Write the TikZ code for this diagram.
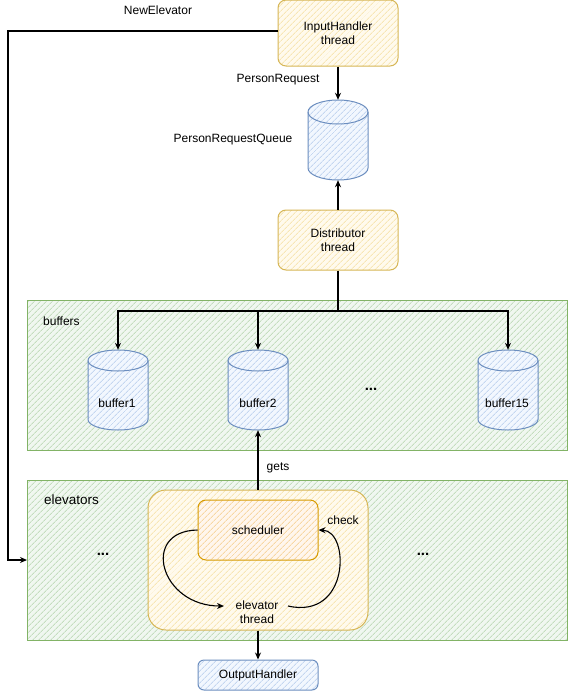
\documentclass[tikz,border=0pt]{standalone}
\usepackage{fontspec}
\setmainfont{Liberation Sans}
\usetikzlibrary{patterns.meta,arrows.meta,calc}
\definecolor{yfill}{HTML}{FFF2CC}\definecolor{ystroke}{HTML}{D6B656}
\definecolor{bfill}{HTML}{DAE8FC}\definecolor{bstroke}{HTML}{6C8EBF}
\definecolor{gfill}{HTML}{D5E8D4}\definecolor{gstroke}{HTML}{82B366}
\definecolor{ofill}{HTML}{FFE6CC}\definecolor{ostroke}{HTML}{D79B00}
\tikzset{
  hatch/.style 2 args={preaction={fill=#1!35}, pattern={Lines[angle=45,distance=4pt,line width=0.9pt]}, pattern color=#1!80!#2},
  ybox/.style={draw=ystroke, line width=1pt, hatch={yfill}{ystroke}, rounded corners=8pt, minimum width=120pt, minimum height=60pt, align=center, inner sep=0pt},
  bbox/.style={draw=bstroke, line width=1pt, hatch={bfill}{bstroke}, rounded corners=6pt, align=center, inner sep=0pt},
  obox/.style={draw=ostroke, line width=1pt, hatch={ofill}{ostroke}, rounded corners=8pt, align=center, inner sep=0pt},
  gbox/.style={draw=gstroke, line width=1pt, hatch={gfill}{gstroke}, inner sep=0pt},
  cylstyle/.style={draw=bstroke, line width=1pt, hatch={bfill}{bstroke}},
  conn/.style={draw=black, line width=1.2pt},
  arr/.style={-{Stealth[open,length=7pt,width=6pt]}},
  txt/.style={font=\fontsize{12}{14}\selectfont, align=center, inner sep=0pt},
  dots/.style={font=\fontsize{15}{16}\selectfont\bfseries, inner sep=0pt}
}
\newcommand\mycyl[6]{%
  \path[cylstyle] ({#2-#4/2},{#3+#6}) -- ({#2-#4/2},{#3+#5-#6}) arc[start angle=180,end angle=0,x radius={#4/2},y radius=#6] -- ({#2+#4/2},{#3+#6}) arc[start angle=0,end angle=-180,x radius={#4/2},y radius=#6] -- cycle;
  \draw[bstroke, line width=1pt] ({#2-#4/2},{#3+#6}) arc[start angle=180,end angle=0,x radius={#4/2},y radius=#6];
  \node[inner sep=0pt, minimum width=#4pt, minimum height=#5pt] (#1) at (#2,{#3+#5/2}) {};
}
\begin{document}
\begin{tikzpicture}[x=1pt,y=-1pt, txt]
\useasboundingbox (0,0) rectangle (568,691);
% containers
\node[gbox, minimum width=540pt, minimum height=150pt] (bufs) at (297.5,375) {};
\node[gbox, minimum width=540pt, minimum height=160pt] (elev) at (297.5,560) {};
\node[txt, anchor=west] (lbufs) at (43,321) {buffers};
\node[txt, anchor=west, font=\fontsize{13.5}{15}\selectfont] (lelev) at (44,500) {elevators};
% top boxes
\node[ybox, minimum height=66pt] (ih) at (338,33) {InputHandler\\thread};
\node[ybox] (dist) at (338,240) {Distributor\\thread};
\mycyl{prq}{338}{100}{60}{80}{12}
\node[txt] (lpr) at (278,80) {PersonRequest};
\node[txt] (lprq) at (233,140) {PersonRequestQueue};
\node[txt] (lne) at (158,10) {NewElevator};
% buffers
\mycyl{b1}{118}{350}{60}{80}{10.5}
\mycyl{b2}{258}{350}{60}{80}{10.5}
\mycyl{b15}{508}{350}{60}{80}{10.5}
\node[txt] (tb1) at (117,403) {buffer1};
\node[txt] (tb2) at (258,403) {buffer2};
\node[txt] (tb15) at (507,403) {buffer15};
\node[dots] (d1) at (371,389) {...};
% elevators
\node[ybox, rounded corners=18pt, minimum width=220pt, minimum height=140pt] (inner) at (258,560) {};
\node[obox, minimum width=120pt, minimum height=60pt] (sched) at (258,530) {scheduler};
\node[txt] (et) at (257,612) {elevator\\thread};
\node[txt] (lchk) at (343,520) {check};
\node[dots] (d2) at (103,554) {...};
\node[dots] (d3) at (423,554) {...};
\node[txt] (lgets) at (278,468) {gets};
\node[bbox, minimum width=120pt, minimum height=30pt] (out) at (258,675) {OutputHandler};
% connectors
\coordinate (ne) at (8,31);
\draw[conn, arr] (ih.west |- ne) -- (ne) |- (elev.west);
\draw[conn, arr] (ih.south) -- (prq.north);
\draw[conn, arr] (dist.north) -- (prq.south);
\coordinate (j) at (338,311);
\draw[conn] (dist.south) -- (j);
\draw[conn, arr] (j) -| (b1.north);
\draw[conn, arr] (j) -| (b2.north);
\draw[conn, arr] (j) -| (b15.north);
\draw[conn, arr] (inner.north) -- (b2.south);
\draw[conn, arr] (inner.south) -- (out.north);
\coordinate (etA) at (224,606);
\coordinate (etB) at (288,606);
\draw[conn, line width=1.1pt, arr] (sched.west) .. controls (140,531) and (160,606) .. (etA);
\draw[conn, line width=1.1pt, arr] (etB) .. controls (350,620) and (350,531) .. (sched.east);
\end{tikzpicture}
\end{document}
